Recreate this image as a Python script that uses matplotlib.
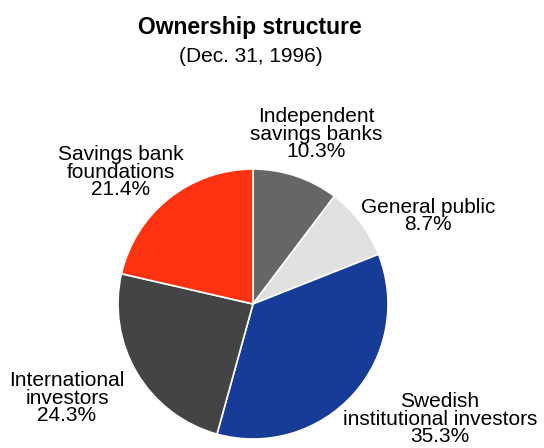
import matplotlib
matplotlib.use("Agg")
import matplotlib.pyplot as plt

# Ownership shares, clockwise from 12 o'clock
owners = [
    "Independent\nsavings banks",
    "General public",
    "Swedish\ninstitutional investors",
    "International\ninvestors",
    "Savings bank\nfoundations",
]
shares = [10.3, 8.7, 35.3, 24.3, 21.4]
colors = ["#666666", "#e0e0e0", "#163c98", "#444444", "#ff3311"]

# Label anchor points (pixel coordinates from the top-left corner)
label_xy = [(316, 134), (428, 216), (440, 419), (67, 398), (121, 172)]

W, H = 544, 448
fig = plt.figure(figsize=(W / 100, H / 100), dpi=100)
ax = fig.add_axes([0, 0, 1, 1])

cx, cy, r = 253, 304, 135
ax.pie(shares, colors=colors, startangle=90, counterclock=False,
       center=(cx, H - cy), radius=r,
       wedgeprops=dict(edgecolor="white", linewidth=1.2))

font = "Liberation Sans"
for name, val, (x, y) in zip(owners, shares, label_xy):
    ax.text(x, H - y, f"{name}\n{val:.1f}%", ha="center", va="center",
            fontsize=15, family=font, linespacing=0.92, color="black")

ax.text(250, H - 27, "Ownership structure", ha="center", va="center",
        fontsize=16.5, fontweight="bold", family=font)
ax.text(251, H - 56, "(Dec. 31, 1996)", ha="center", va="center",
        fontsize=15, family=font)

ax.set_xlim(0, W)
ax.set_ylim(0, H)
ax.set_aspect("equal")
ax.axis("off")
fig.savefig("out.png", dpi=100, facecolor="white")
